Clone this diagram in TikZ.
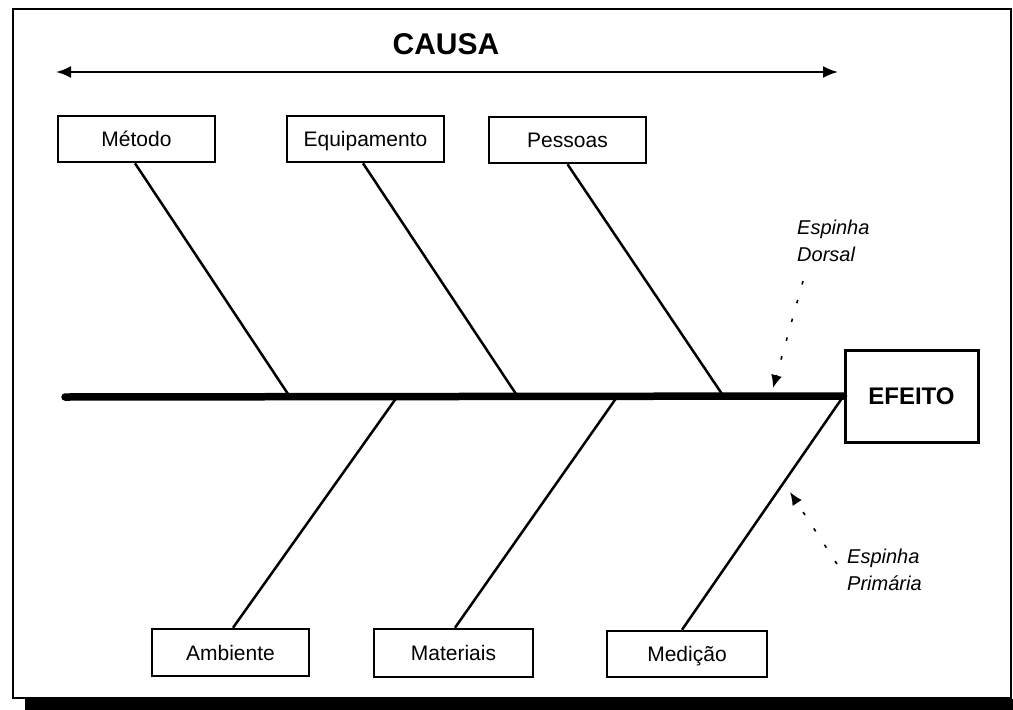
\documentclass[tikz,border=0pt]{standalone}
\usepackage{fontspec}
\setmainfont{Liberation Sans}
\usetikzlibrary{arrows.meta}
\tikzset{
  causebox/.style={draw, line width=2.5pt, minimum width=157pt, minimum height=46pt, inner sep=0pt, text height=15pt, text depth=0pt, font=\fontsize{21}{25}\selectfont},
  bone/.style={line width=2.5pt},
  spine/.style={line width=7.5pt, line cap=round},
  note/.style={font=\fontsize{20}{27}\selectfont\itshape, align=left, inner sep=0pt},
  dotarrow/.style={line width=1.6pt, dash pattern=on 3.5pt off 16pt, -{Latex[length=13pt,width=11pt]}},
}
\begin{document}
\begin{tikzpicture}[x=1pt,y=-1pt]
\useasboundingbox (0,0) rectangle (1013,710);
% frame and shadow
\fill[black] (25,699) rectangle (1013,710);
\draw[line width=1.5pt, fill=white] (13,9) rectangle (1011,698);

% title and cause arrow
\node[font=\fontsize{30}{36}\selectfont\bfseries] (causa) at (446,44) {CAUSA};
\coordinate (arL) at (56,72);
\coordinate (arR) at (838,72);
\draw[line width=2.2pt, {Latex[length=15pt,width=12pt]}-{Latex[length=15pt,width=12pt]}] (arL) -- (arR);

% cause boxes
\node[causebox] (metodo) at (136.5,139) {Método};
\node[causebox] (equip) at (365.5,139) {Equipamento};
\node[causebox] (pessoas) at (567.5,140) {Pessoas};
\node[causebox, minimum height=47pt] (ambiente) at (230.5,652.5) {Ambiente};
\node[causebox, minimum width=159pt, minimum height=48pt] (materiais) at (453.5,653) {Materiais};
\node[causebox, minimum width=160pt] (medicao) at (687,654) {Medição};

% effect box
\node[draw, line width=3pt, minimum width=133pt, minimum height=92pt, inner sep=0pt, font=\fontsize{24}{28}\selectfont\bfseries] (efeito) at (911.5,396) {EFEITO};

% spine
\coordinate (spL) at (65,397);
\draw[spine] (spL) -- (efeito.west);

% junctions on spine
\coordinate (j1) at (290,397);
\coordinate (j2) at (518,397);
\coordinate (j3) at (724,397);
\coordinate (k1) at (397,397);
\coordinate (k2) at (617,397);

% bones
\draw[bone] ([xshift=-1.5pt]metodo.south) -- (j1);
\draw[bone] ([xshift=-2.5pt]equip.south) -- (j2);
\draw[bone] (pessoas.south) -- (j3);
\draw[bone] (k1) -- ([xshift=2.5pt]ambiente.north);
\draw[bone] (k2) -- ([xshift=1.5pt]materiais.north);
\draw[bone] (efeito.west) -- ([xshift=-5pt]medicao.north);

% annotations
\node[note, anchor=north west] (dorsal) at (797,220) {Espinha\\Dorsal};
\coordinate (dTip) at (773,388);
\draw[dotarrow] ([xshift=6pt,yshift=-19pt]dorsal.south west) -- (dTip);

\node[note, anchor=north west] (primaria) at (847,549) {Espinha\\Primária};
\coordinate (pTip) at (790,492);
\draw[dotarrow] ([xshift=-10pt,yshift=-15pt]primaria.north west) -- (pTip);
\end{tikzpicture}
\end{document}
